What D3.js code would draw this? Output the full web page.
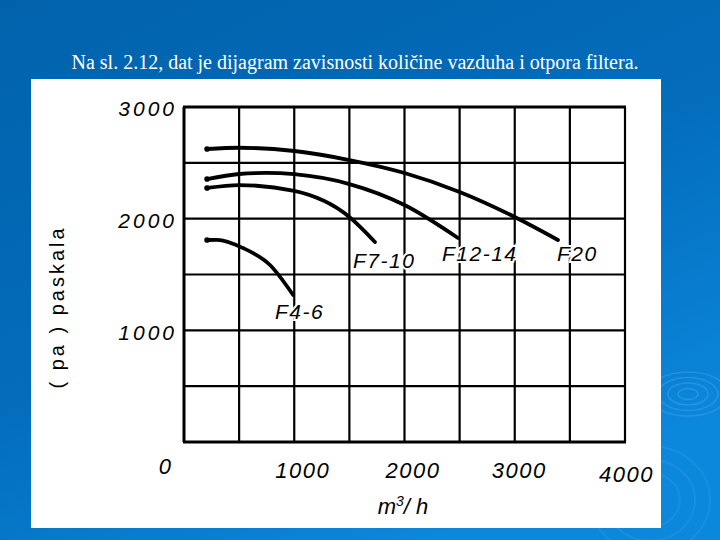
<!DOCTYPE html>
<html>
<head>
<meta charset="utf-8">
<script src="https://cdn.jsdelivr.net/npm/d3@7"></script>
<style>
  html, body { margin: 0; padding: 0; background: #0166b0; }
  svg text { font-family: "Liberation Sans", Arial, sans-serif; }
</style>
</head>
<body>
<div id="chart"></div>
<script>
// air flow (m3/h) vs filter resistance (Pa) for each filter class
var seriesNames = ["F20", "F12-14", "F7-10", "F4-6"];
var f20Flow  = [209, 500, 1000, 1500, 2000, 2500, 3000, 3392];
var f20Pa    = [2624, 2635, 2606, 2525, 2409, 2239, 2015, 1809];
var f12Flow  = [209, 500, 750, 1000, 1500, 2000, 2485];
var f12Pa    = [2355, 2400, 2410, 2398, 2310, 2122, 1827];
var f7Flow   = [209, 500, 1000, 1500, 1732];
var f7Pa     = [2275, 2301, 2248, 2015, 1791];
var f4Flow   = [209, 300, 535, 780, 990];
var f4Pa     = [1809, 1810, 1737, 1585, 1316];
// where each curve name sits (in data units: left edge / baseline)
var labelFlow = [3383, 2340, 1533, 825];
var labelPa   = [1621, 1621, 1558, 1101];
var xTicks = [0, 1000, 2000, 3000, 4000];
var yTicks = [1000, 2000, 3000];

var width = 720, height = 540;
var svg = d3.select("#chart").append("svg")
    .attr("width", width)
    .attr("height", height);

// slide background
var defs = svg.append("defs");
var grad = defs.append("linearGradient")
    .attr("id", "bg")
    .attr("x1", 0).attr("y1", 0).attr("x2", 0.6).attr("y2", 1);
grad.append("stop").attr("offset", "0%").attr("stop-color", "#0162ab");
grad.append("stop").attr("offset", "55%").attr("stop-color", "#036cbb");
grad.append("stop").attr("offset", "100%").attr("stop-color", "#0b87db");
svg.append("rect")
    .attr("width", width).attr("height", height)
    .attr("fill", "url(#bg)");

// faint ripples on the right
[10, 20, 30, 40].forEach(function (r) {
    svg.append("ellipse")
        .attr("cx", 688).attr("cy", 394)
        .attr("rx", r).attr("ry", r * 0.55)
        .attr("fill", "none")
        .attr("stroke", "#5aaef0")
        .attr("stroke-opacity", 0.35)
        .attr("stroke-width", 1.5);
});
[30, 45, 60].forEach(function (r) {
    svg.append("ellipse")
        .attr("cx", 650).attr("cy", 500)
        .attr("rx", r).attr("ry", r * 0.9)
        .attr("fill", "none")
        .attr("stroke", "#4aa3ea")
        .attr("stroke-opacity", 0.25)
        .attr("stroke-width", 2);
});

svg.append("text")
    .attr("x", 355).attr("y", 69)
    .attr("text-anchor", "middle")
    .style("font-family", "'Liberation Serif', 'Times New Roman', serif")
    .style("font-size", "20px")
    .attr("fill", "#ffffff")
    .text("Na sl. 2.12, dat je dijagram zavisnosti količine vazduha i otpora filtera.");

// white picture panel
svg.append("rect")
    .attr("x", 31).attr("y", 79)
    .attr("width", 630).attr("height", 449)
    .attr("fill", "#ffffff");

var x = d3.scaleLinear().domain([0, 4000]).range([184, 625]);
var y = d3.scaleLinear().domain([0, 3000]).range([442, 107]);

// grid
var grid = svg.append("g").attr("stroke", "#000");
grid.selectAll("line.v")
    .data(d3.range(0, 4001, 500))
    .join("line")
    .attr("class", "v")
    .attr("x1", function (d) { return x(d); })
    .attr("x2", function (d) { return x(d); })
    .attr("y1", y(0)).attr("y2", y(3000))
    .attr("stroke-width", function (d) { return d === 0 ? 3 : 2.2; });
grid.selectAll("line.h")
    .data(d3.range(0, 3001, 500))
    .join("line")
    .attr("class", "h")
    .attr("y1", function (d) { return y(d); })
    .attr("y2", function (d) { return y(d); })
    .attr("x1", x(0) - 1).attr("x2", x(4000) + 1)
    .attr("stroke-width", function (d) { return d === 0 || d === 3000 ? 3 : 2.2; });

// curves
var line = d3.line()
    .x(function (d) { return x(d[0]); })
    .y(function (d) { return y(d[1]); })
    .curve(d3.curveMonotoneX);
var series = [
    d3.zip(f20Flow, f20Pa),
    d3.zip(f12Flow, f12Pa),
    d3.zip(f7Flow, f7Pa),
    d3.zip(f4Flow, f4Pa)
];
svg.append("g").selectAll("path")
    .data(series)
    .join("path")
    .attr("d", line)
    .attr("fill", "none")
    .attr("stroke", "#000")
    .attr("stroke-width", 3.8)
    .attr("stroke-linecap", "round");
// small blobs where the curves start
svg.append("g").selectAll("circle")
    .data(series)
    .join("circle")
    .attr("cx", function (d) { return x(d[0][0]); })
    .attr("cy", function (d) { return y(d[0][1]); })
    .attr("r", 2.8)
    .attr("fill", "#000");

// curve names
svg.append("g").selectAll("text")
    .data(seriesNames)
    .join("text")
    .attr("x", function (d, i) { return x(labelFlow[i]); })
    .attr("y", function (d, i) { return y(labelPa[i]); })
    .style("font-size", "21px")
    .style("font-style", "italic")
    .style("letter-spacing", "1.5px")
    .attr("fill", "#000")
    .attr("stroke", "#fff")
    .attr("stroke-width", 4)
    .attr("paint-order", "stroke")
    .text(function (d) { return d; });

// axes
var yAxis = svg.append("g")
    .attr("transform", "translate(" + x(0) + ",0)")
    .call(d3.axisLeft(y).tickValues(yTicks).tickSize(0).tickPadding(7)
        .tickFormat(d3.format("d")));
yAxis.select(".domain").remove();
yAxis.selectAll("text")
    .attr("dy", "0.42em")
    .style("font-size", "21px")
    .style("font-style", "italic")
    .style("letter-spacing", "3px")
    .attr("fill", "#000");

var xAxis = svg.append("g")
    .attr("transform", "translate(0," + y(0) + ")")
    .call(d3.axisBottom(x).tickValues(xTicks).tickSize(0).tickPadding(17)
        .tickFormat(d3.format("d")));
xAxis.select(".domain").remove();
xAxis.selectAll(".tick text")
    .attr("dx", function (d) { return d === 0 ? -19 : (d === 4000 ? 1 : (d === 3000 ? 4 : 8)); })
    .attr("dy", function (d) { return d === 0 ? "0.7em" : (d === 4000 ? "1.05em" : "0.85em"); })
    .style("font-size", "22px")
    .style("font-style", "italic")
    .style("letter-spacing", "1.5px")
    .attr("fill", "#000");

// axis titles
var unit = svg.append("text")
    .attr("x", 403).attr("y", 514)
    .attr("text-anchor", "middle")
    .style("font-size", "22px")
    .style("font-style", "italic")
    .attr("fill", "#000");
unit.append("tspan").text("m");
unit.append("tspan").attr("dy", -8).style("font-size", "14px").text("3");
unit.append("tspan").attr("dy", 8).text("/ h");

svg.append("text")
    .attr("transform", "translate(64,307) rotate(-90)")
    .attr("text-anchor", "middle")
    .style("font-size", "20px")
    .style("letter-spacing", "3px")
    .attr("fill", "#000")
    .text("( pa ) paskala");
</script>
</body>
</html>
